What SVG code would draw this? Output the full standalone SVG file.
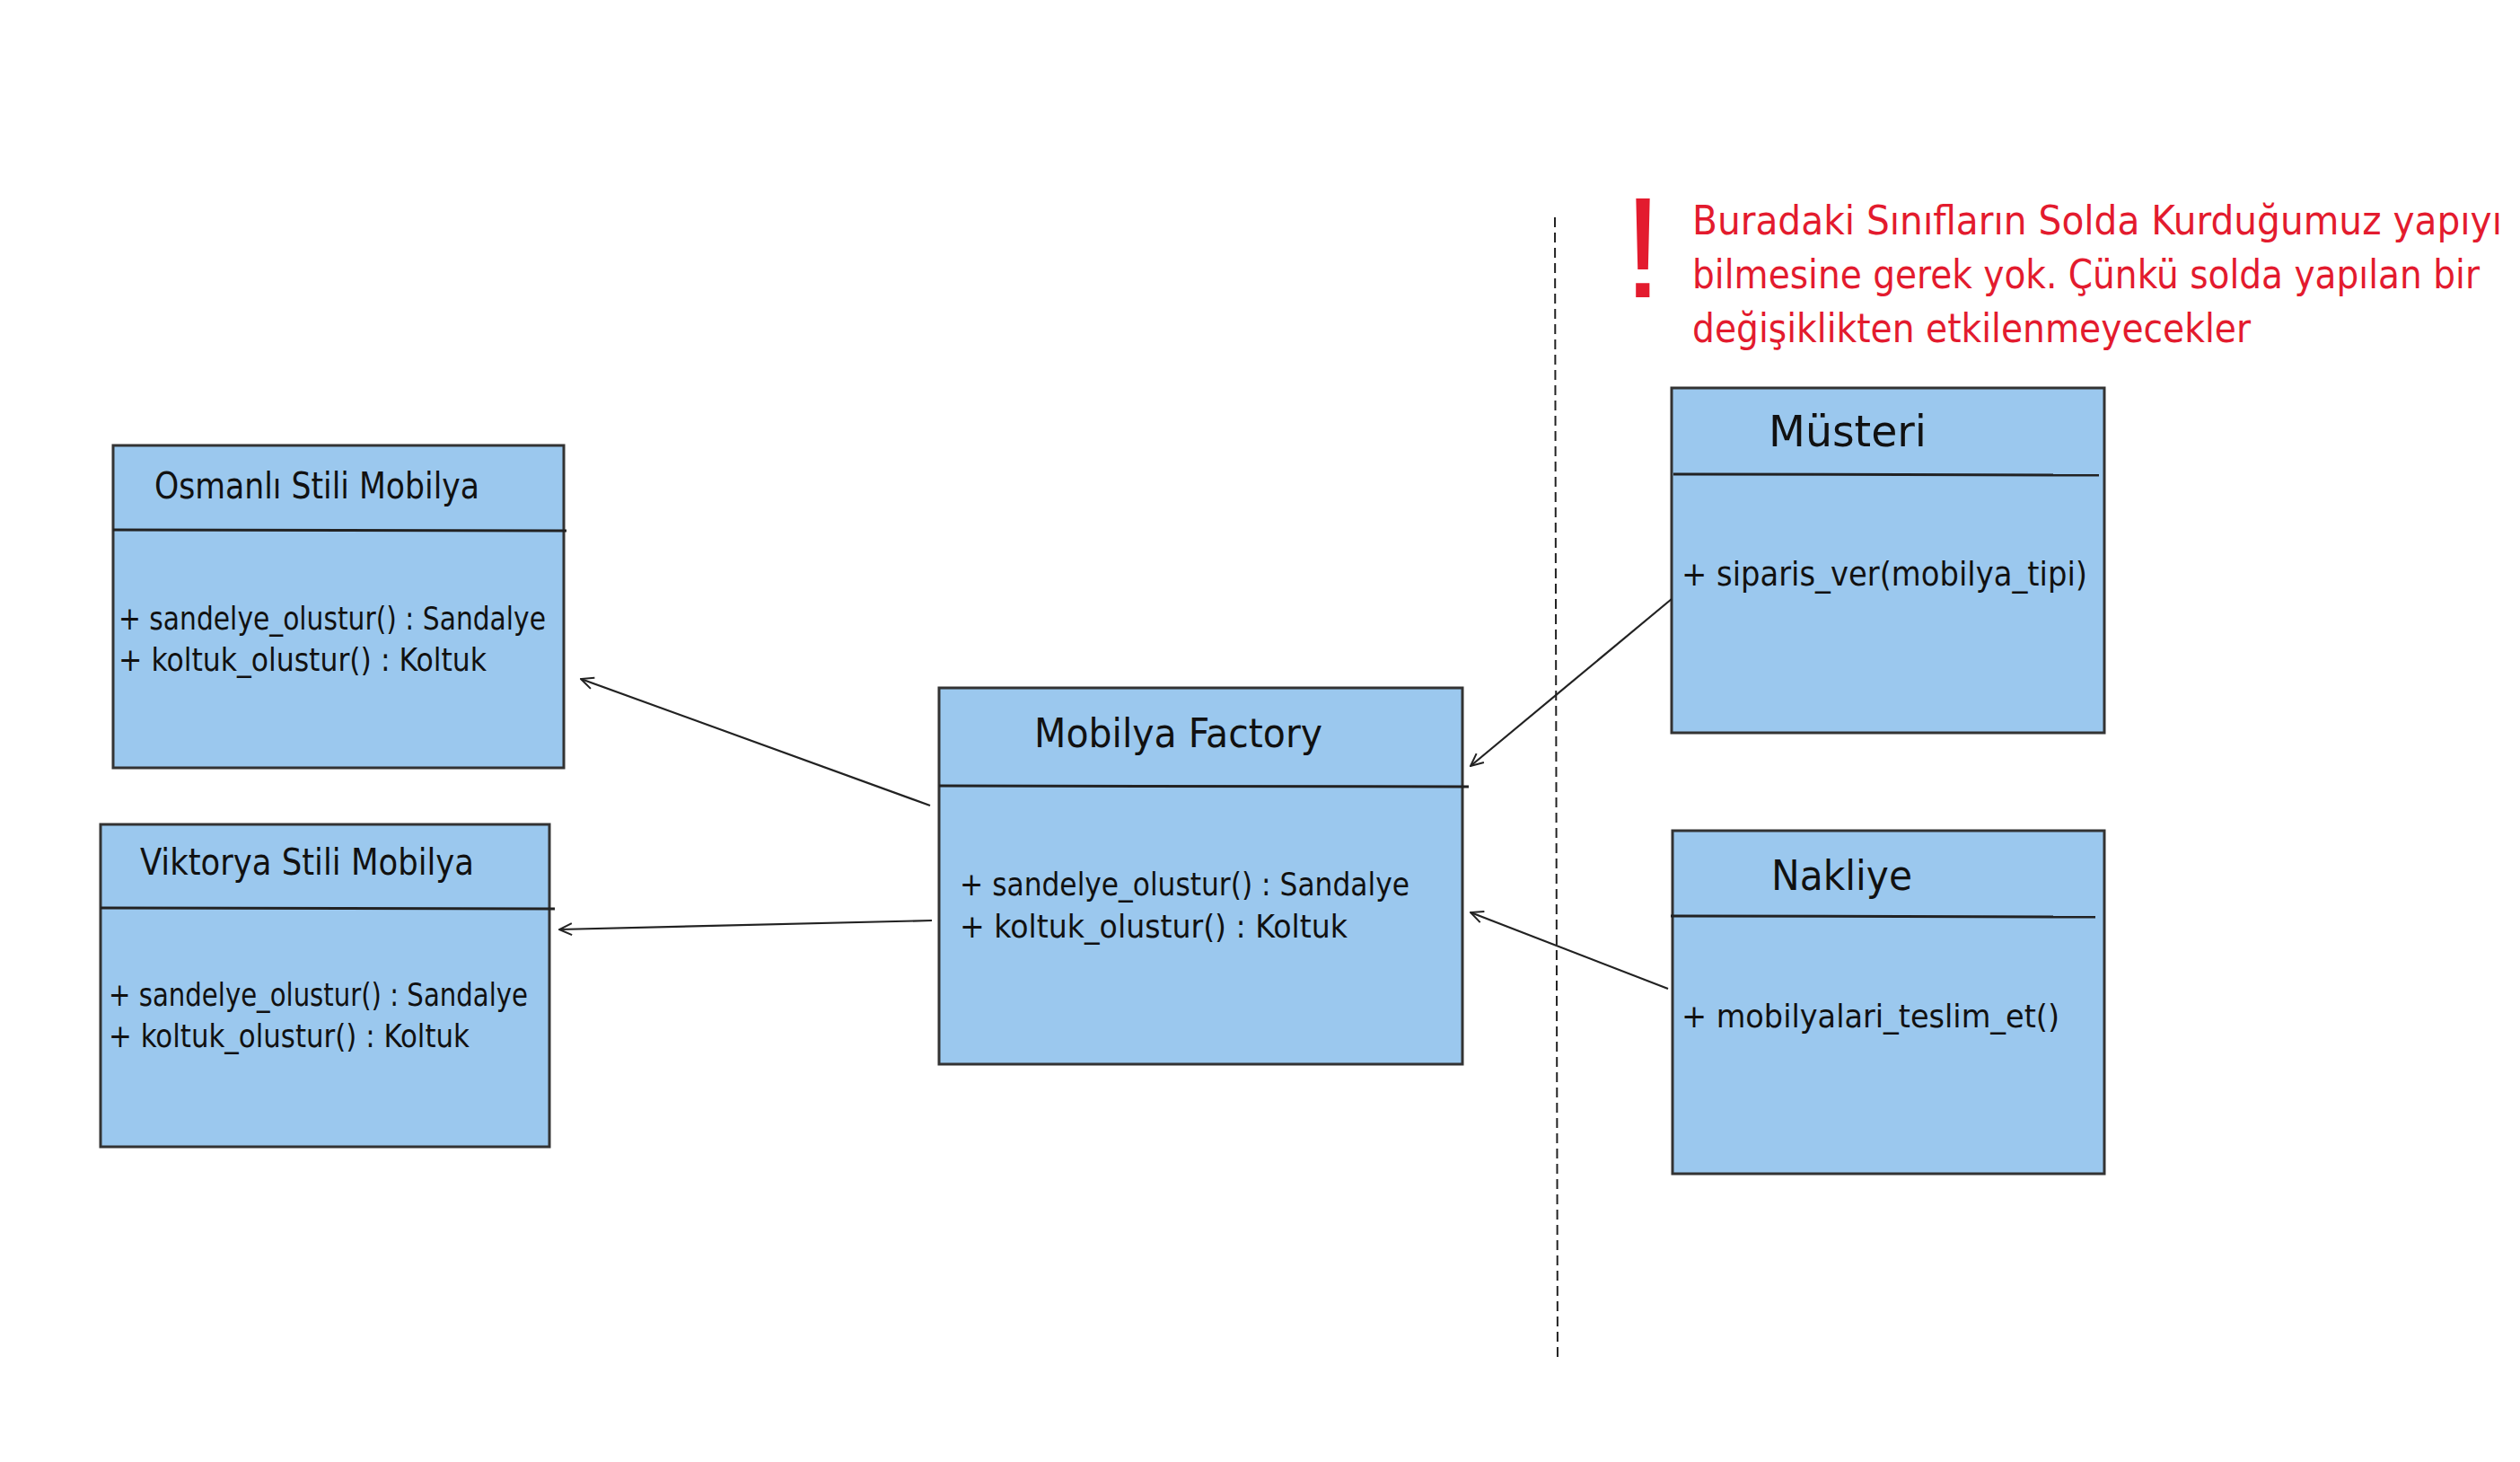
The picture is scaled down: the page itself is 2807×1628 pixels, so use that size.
<svg xmlns="http://www.w3.org/2000/svg" width="2807" height="1628" viewBox="0 0 2807 1628">
<defs>
<style>
.box{fill:#9bc8ee;stroke:#333;stroke-width:3}
.div{stroke:#222;stroke-width:3}
.t{font-family:"Liberation Sans Narrow","DejaVu Sans Condensed","Liberation Sans",sans-serif;fill:#111}
.title{font-size:40px}
.meth{font-size:36px}
.red{font-family:"Liberation Sans Narrow","DejaVu Sans Condensed","Liberation Sans",sans-serif;fill:#e31b2e;font-size:44px}
.con{stroke:#222;stroke-width:2.2;fill:none}
</style>
<marker id="arr" viewBox="0 0 16 16" refX="15" refY="8" markerWidth="16" markerHeight="16" orient="auto" markerUnits="userSpaceOnUse">
<path d="M1,1.5 L15,8 L1,14.5" fill="none" stroke="#222" stroke-width="2"/>
</marker>
</defs>
<rect width="2807" height="1628" fill="#fff"/>

<g id="osmanli">
<rect class="box" x="126" y="496" width="502" height="359"/>
<line class="div" x1="126" y1="590" x2="631" y2="591"/>
<text class="t title" x="172" y="555" textLength="362" lengthAdjust="spacingAndGlyphs">Osmanlı Stili Mobilya</text>
<text class="t meth" x="132" y="701" textLength="476" lengthAdjust="spacingAndGlyphs">+ sandelye_olustur() : Sandalye</text>
<text class="t meth" x="132" y="747" textLength="410" lengthAdjust="spacingAndGlyphs">+ koltuk_olustur() : Koltuk</text>
</g>

<g id="viktorya">
<rect class="box" x="112" y="918" width="500" height="359"/>
<line class="div" x1="112" y1="1011" x2="618" y2="1012"/>
<text class="t title" x="156" y="974" textLength="372" lengthAdjust="spacingAndGlyphs">Viktorya Stili Mobilya</text>
<text class="t meth" x="121" y="1120" textLength="467" lengthAdjust="spacingAndGlyphs">+ sandelye_olustur() : Sandalye</text>
<text class="t meth" x="121" y="1166" textLength="402" lengthAdjust="spacingAndGlyphs">+ koltuk_olustur() : Koltuk</text>
</g>

<g id="factory">
<rect class="box" x="1046" y="766" width="583" height="419"/>
<line class="div" x1="1046" y1="875" x2="1636" y2="876"/>
<text class="t" font-size="44" x="1152" y="832" textLength="321" lengthAdjust="spacingAndGlyphs">Mobilya Factory</text>
<text class="t meth" x="1069" y="997" textLength="501" lengthAdjust="spacingAndGlyphs">+ sandelye_olustur() : Sandalye</text>
<text class="t meth" x="1069" y="1044" textLength="432" lengthAdjust="spacingAndGlyphs">+ koltuk_olustur() : Koltuk</text>
</g>

<g id="musteri">
<rect class="box" x="1862" y="432" width="482" height="384"/>
<line class="div" x1="1864" y1="528" x2="2338" y2="529"/>
<text class="t" font-size="48" x="1970" y="497" textLength="176" lengthAdjust="spacingAndGlyphs">Müsteri</text>
<text class="t" font-size="38" x="1873" y="652" textLength="452" lengthAdjust="spacingAndGlyphs">+ siparis_ver(mobilya_tipi)</text>
</g>

<g id="nakliye">
<rect class="box" x="1863" y="925" width="481" height="382"/>
<line class="div" x1="1861" y1="1020" x2="2334" y2="1021"/>
<text class="t" font-size="46" x="1973" y="991" textLength="157" lengthAdjust="spacingAndGlyphs">Nakliye</text>
<text class="t" font-size="36" x="1873" y="1144" textLength="421" lengthAdjust="spacingAndGlyphs">+ mobilyalari_teslim_et()</text>
</g>

<g id="note">
<text x="1830" y="331" text-anchor="middle" font-family="Liberation Sans, sans-serif" font-size="160" fill="#e31b2e">!</text>
<text class="red" x="1885" y="261" textLength="902" lengthAdjust="spacingAndGlyphs">Buradaki Sınıfların Solda Kurduğumuz yapıyı</text>
<text class="red" x="1885" y="321" textLength="877" lengthAdjust="spacingAndGlyphs">bilmesine gerek yok. Çünkü solda yapılan bir</text>
<text class="red" x="1885" y="381" textLength="622" lengthAdjust="spacingAndGlyphs">değişiklikten etkilenmeyecekler</text>
</g>

<g id="separator">
<line x1="1732" y1="242" x2="1735" y2="1517" stroke="#222" stroke-width="2" stroke-dasharray="11 6"/>
</g>

<g id="connectors">
<line class="con" x1="1036" y1="897" x2="647" y2="756" marker-end="url(#arr)"/>
<line class="con" x1="1038" y1="1025" x2="623" y2="1035" marker-end="url(#arr)"/>
<line class="con" x1="1862" y1="667" x2="1638" y2="853" marker-end="url(#arr)"/>
<line class="con" x1="1858" y1="1101" x2="1638" y2="1016" marker-end="url(#arr)"/>
</g>
</svg>
